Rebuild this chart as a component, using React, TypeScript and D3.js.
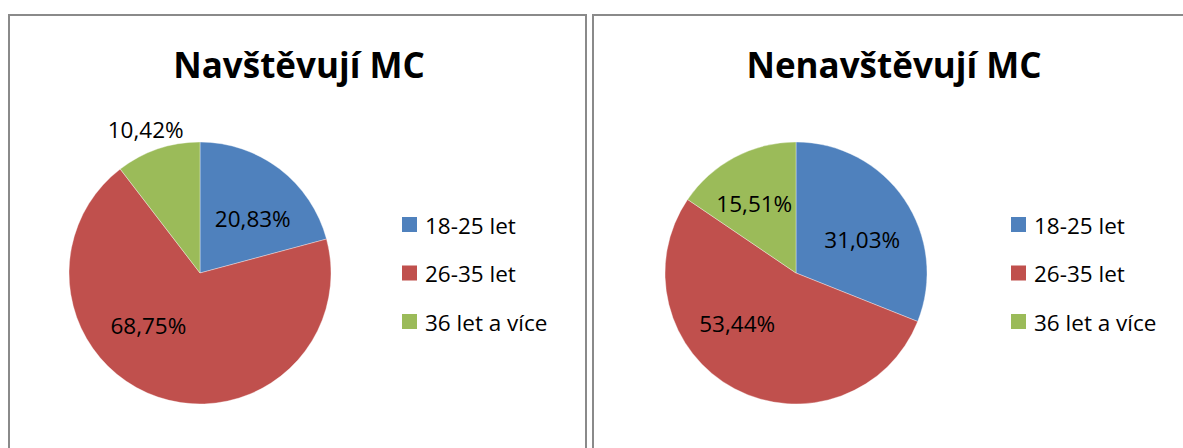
import React from "react";
import * as d3 from "d3";

const categories = ["18-25 let", "26-35 let", "36 let a více"];
const titles = ["Navštěvují MC", "Nenavštěvují MC"];
const visitValues = [20.83, 68.75, 10.42];
const nonVisitValues = [31.03, 53.44, 15.51];
const colors = ["#4F81BD", "#C0504D", "#9BBB59"];

// layout for each panel (page pixel coordinates)
const panels = [
  {
    title: titles[0],
    values: visitValues,
    x0: 9,
    x1: 586,
    cx: 200,
    cy: 273,
    titleX: 299,
    legendX: 402,
    // label placement: angle nudge (deg) and radius fraction
    labels: [
      { dA: 6.5, f: 0.58 },
      { dA: 26, f: 0.56 },
      { dA: -2, f: 1.17 },
    ],
  },
  {
    title: titles[1],
    values: nonVisitValues,
    x0: 593,
    x1: 1200,
    cx: 796,
    cy: 273,
    titleX: 894,
    legendX: 1011,
    labels: [
      { dA: 7.6, f: 0.565 },
      { dA: 21.6, f: 0.59 },
      { dA: -3, f: 0.62 },
    ],
  },
];

const R = 131;
const FONT = "'Open Sans', 'Noto Sans', sans-serif";
const fmt = (v: number) => v.toFixed(2).replace(".", ",") + "%";

function Panel({ p }: { p: (typeof panels)[number] }) {
  const pie = d3.pie<number>().sort(null).value((d) => d);
  const arcs = pie(p.values);
  const arc = d3.arc<d3.PieArcDatum<number>>().innerRadius(0).outerRadius(R);
  const legendY = d3.scalePoint<string>().domain(categories).range([225, 322]);
  return (
    <g>
      <path
        d={`M${p.x0},460 L${p.x0},15 L${p.x1},15 L${p.x1},460`}
        fill="none"
        stroke="#8a8a8a"
        strokeWidth={2}
      />
      <text
        x={p.titleX}
        y={78}
        textAnchor="middle"
        fontFamily={FONT}
        fontWeight="bold"
        fontSize={35}
        fill="#000"
      >
        {p.title}
      </text>
      <g transform={`translate(${p.cx},${p.cy})`}>
        {arcs.map((a, i) => (
          <path key={i} d={arc(a) || ""} fill={colors[i]} stroke="#ffffff" strokeWidth={0.6} strokeOpacity={0.6} />
        ))}
        {arcs.map((a, i) => {
          const mid = (a.startAngle + a.endAngle) / 2 + (p.labels[i].dA * Math.PI) / 180;
          const r = R * p.labels[i].f;
          const x = Math.sin(mid) * r;
          const y = -Math.cos(mid) * r;
          return (
            <text
              key={"l" + i}
              x={x}
              y={y}
              textAnchor="middle"
              dominantBaseline="central"
              fontFamily={FONT}
              fontSize={22.5}
              fill="#000"
            >
              {fmt(a.data)}
            </text>
          );
        })}
      </g>
      {categories.map((c, i) => (
        <g key={c} transform={`translate(${p.legendX},${legendY(c)})`}>
          <rect x={0} y={-8} width={15} height={15} fill={colors[i]} />
          <text x={23} y={0} dominantBaseline="central" fontFamily={FONT} fontSize={22.5} fill="#000">
            {c}
          </text>
        </g>
      ))}
    </g>
  );
}

export default function App() {
  return (
    <svg
      width={1183}
      height={448}
      style={{ position: "absolute", left: 0, top: 0, background: "#fff" }}
    >
      <rect x={0} y={0} width={1183} height={448} fill="#fff" />
      {panels.map((p, i) => (
        <Panel key={i} p={p} />
      ))}
    </svg>
  );
}
